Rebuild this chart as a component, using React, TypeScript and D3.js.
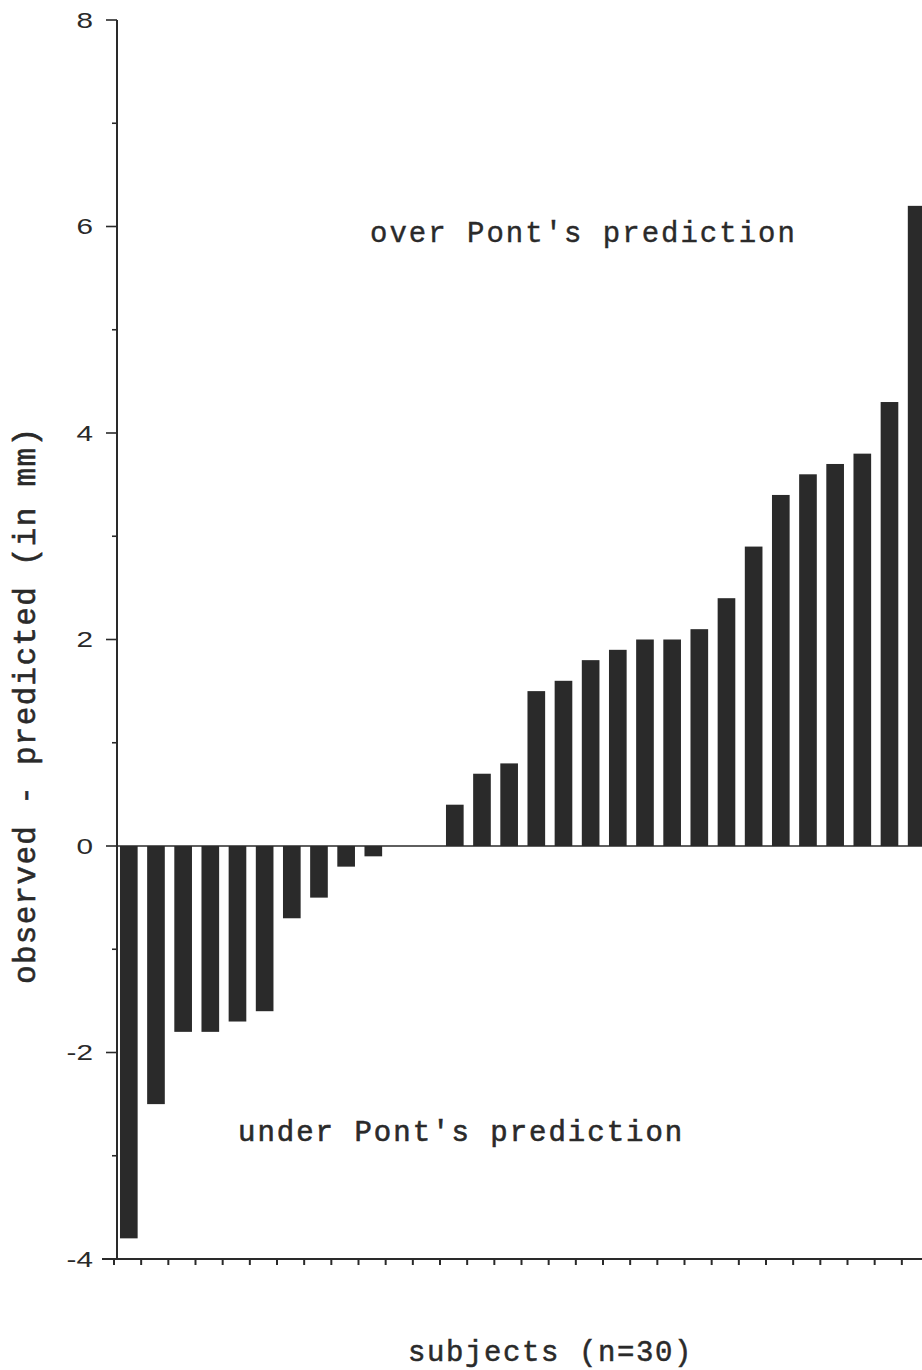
import React from "react";
import * as d3 from "d3";

const subjects: number[] = d3.range(1, 31);
const differences: number[] = [
  -3.8, -2.5, -1.8, -1.8, -1.7, -1.6, -0.7, -0.5, -0.2, -0.1,
  0, 0, 0.4, 0.7, 0.8, 1.5, 1.6, 1.8, 1.9, 2.0,
  2.0, 2.1, 2.4, 2.9, 3.4, 3.6, 3.7, 3.8, 4.3, 6.2,
];
const yMajorTicks: number[] = [-4, -2, 0, 2, 4, 6, 8];
const yMinorTicks: number[] = [-3, -1, 1, 3, 5, 7];
const yAxisTitle = "observed - predicted (in mm)";
const xAxisTitle = "subjects (n=30)";
const overLabel = "over Pont's prediction";
const underLabel = "under Pont's prediction";

const W = 922;
const H = 1370;
const mono = "'Liberation Mono', 'Courier New', monospace";
const sans = "'Liberation Sans', Arial, sans-serif";
const ink = "#2a2a2a";

export default function App() {
  const x = d3
    .scaleBand<number>()
    .domain(subjects)
    .range([114, 929])
    .paddingInner(0)
    .paddingOuter(0);
  const step = x.step();
  const y = d3.scaleLinear().domain([-4, 8]).range([1259, 20]);
  const axisX = 117;

  return (
    <svg
      width={W}
      height={H}
      style={{ position: "absolute", left: 0, top: 0, background: "#fff" }}
    >
      {/* bars */}
      {subjects.map((s, i) => {
        const v = differences[i];
        if (v === 0) return null;
        const x0 = (x(s) as number) + step * 0.22;
        return (
          <rect
            key={s}
            x={x0}
            y={Math.min(y(v), y(0))}
            width={step * 0.65}
            height={Math.abs(y(v) - y(0))}
            fill={ink}
          />
        );
      })}
      {/* zero line */}
      <line x1={axisX} x2={W} y1={y(0)} y2={y(0)} stroke={ink} strokeWidth={1.6} />
      {/* y axis */}
      <line x1={axisX} x2={axisX} y1={y(8)} y2={y(-4)} stroke={ink} strokeWidth={2} />
      {yMajorTicks.map((t) => (
        <g key={t}>
          <line x1={axisX - 11} x2={axisX} y1={y(t)} y2={y(t)} stroke={ink} strokeWidth={1.6} />
          <text
            transform={`translate(93, ${y(t)}) scale(1.35, 1)`}
            dy="0.36em"
            textAnchor="end"
            fontFamily={sans}
            fontSize={22}
            fill={ink}
          >
            {t}
          </text>
        </g>
      ))}
      {yMinorTicks.map((t) => (
        <line key={t} x1={axisX - 5} x2={axisX} y1={y(t)} y2={y(t)} stroke={ink} strokeWidth={1.6} />
      ))}
      {/* x axis */}
      <line x1={102} x2={W} y1={y(-4)} y2={y(-4)} stroke={ink} strokeWidth={1.8} />
      {subjects.map((s) => (
        <line
          key={s}
          x1={x(s) as number}
          x2={x(s) as number}
          y1={y(-4)}
          y2={y(-4) + 6}
          stroke={ink}
          strokeWidth={2}
        />
      ))}
      {/* annotations */}
      <text
        x={370}
        y={242}
        fontFamily={mono}
        fontSize={29}
        letterSpacing={2}
        fill={ink}
        stroke={ink}
        strokeWidth={0.4}
      >
        {overLabel}
      </text>
      <text
        x={238}
        y={1141}
        fontFamily={mono}
        fontSize={29}
        letterSpacing={2}
        fill={ink}
        stroke={ink}
        strokeWidth={0.6}
      >
        {underLabel}
      </text>
      <text
        x={408}
        y={1361}
        fontFamily={mono}
        fontSize={29}
        letterSpacing={1.6}
        fill={ink}
        stroke={ink}
        strokeWidth={0.5}
      >
        {xAxisTitle}
      </text>
      <text
        transform={`translate(35, 984) rotate(-90)`}
        fontFamily={mono}
        fontSize={31}
        letterSpacing={1.3}
        fill={ink}
        stroke={ink}
        strokeWidth={0.6}
      >
        {yAxisTitle}
      </text>
    </svg>
  );
}
